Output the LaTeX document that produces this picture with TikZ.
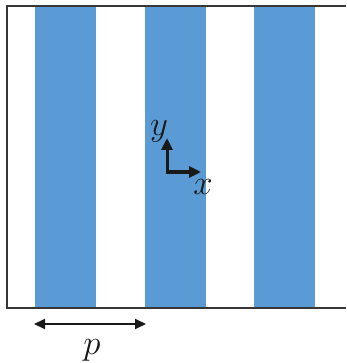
\documentclass[tikz,border=0pt]{standalone}
\usepackage{xcolor}
\usetikzlibrary{positioning,calc,arrows.meta}
\definecolor{stripeblue}{RGB}{91,155,213}
\definecolor{framegray}{RGB}{55,55,55}
\definecolor{arrowblack}{RGB}{25,25,25}

\begin{document}
\begin{tikzpicture}[
    x=1pt, y=-1pt,
    stripe/.style={fill=stripeblue, draw=none},
    frameline/.style={draw=framegray, line width=1.8pt},
    axis/.style={<->, draw=arrowblack, line width=3pt, >={Triangle[length=12pt,width=11pt]}},
    dim/.style={<->, draw=arrowblack, line width=2pt, >={Triangle[length=11pt,width=10pt]}},
    label/.style={font=\Huge, scale=1.4, text=arrowblack, inner sep=0pt}
]
    \useasboundingbox (0,0) rectangle (346,363);

    % Stripes
    \foreach \i in {0,1,2} {
        \fill[stripe] ({35+109.5*\i},6) rectangle ++(61,302);
    }

    % Frame (open on the right)
    \draw[frameline] (346,6) -- (7,6) -- (7,308) -- (346,308);

    % Axes
    \coordinate (origin) at (167,172);
    \coordinate (xtip) at (201,172);
    \coordinate (ytip) at (167,138);
    \draw[axis] (ytip) -- (origin) -- (xtip);
    \node[label] (ylab) at (159,131) {$y$};
    \node[label] (xlab) at (203,187) {$x$};

    % Period
    \coordinate (pleft) at (34,324);
    \coordinate (pright) at (146,324);
    \draw[dim] (pleft) -- (pright);
    \node[label] (plab) at (92,350) {$p$};
\end{tikzpicture}
\end{document}
